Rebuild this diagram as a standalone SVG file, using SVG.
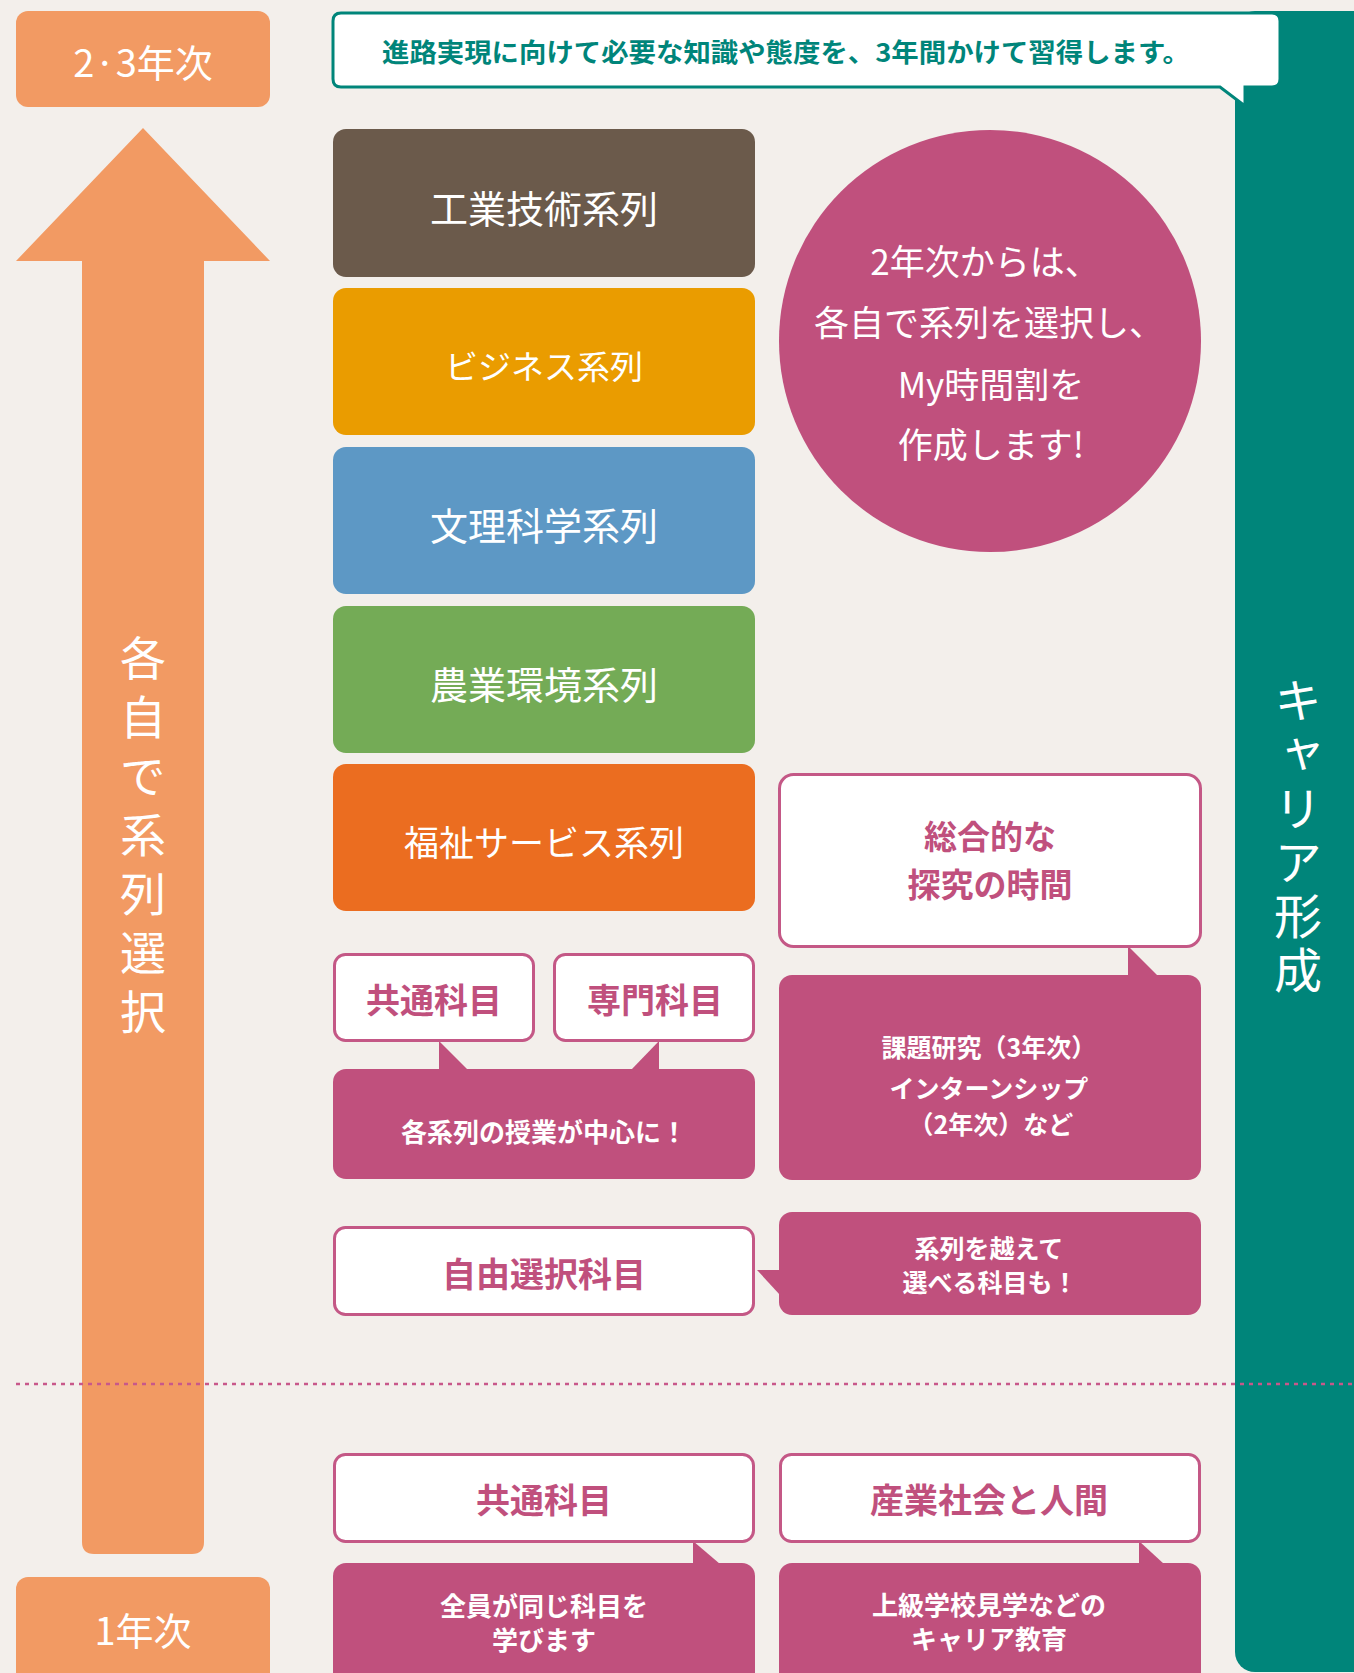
<svg xmlns="http://www.w3.org/2000/svg" width="1354" height="1673" viewBox="0 0 1354 1673">
<style>
.goth{font-family:"Noto Sans CJK JP","Liberation Sans",sans-serif;font-weight:700;}
.w{fill:#fff;}
.pk{fill:#C0507D;}
.wbox{fill:#fff;stroke:#C45886;stroke-width:3;}
.pbox{fill:#C0507D;}
.ser{font-family:"Noto Sans CJK JP",sans-serif;font-weight:400;fill:#fff;}
.vert{writing-mode:vertical-rl;}
</style>
<rect x="0" y="0" width="1354" height="1673" fill="#F3EFEB"/>

<g id="career-bar">
<rect x="1235" y="11" width="140" height="1661" rx="20" fill="#00857A"/>
<text class="ser vert" font-size="48" x="1298" y="676" letter-spacing="6">キャリア形成</text>
</g>

<g id="grade-23">
<rect x="16" y="11" width="254" height="96" rx="12" fill="#F29A63"/>
<text class="ser" font-size="38" x="143" y="60" text-anchor="middle" dominant-baseline="central">2·3年次</text>
</g>

<g id="arrow">
<path d="M143,128 L270,261 L204,261 L204,1542 Q204,1554 192,1554 L94,1554 Q82,1554 82,1542 L82,261 L16,261 Z" fill="#F29A63"/>
<text class="ser vert" font-size="46" x="143" y="635" letter-spacing="13">各自で系列選択</text>
</g>

<g id="grade-1">
<rect x="16" y="1577" width="254" height="110" rx="12" fill="#F29A63"/>
<text class="ser" font-size="38" x="143" y="1628" text-anchor="middle" dominant-baseline="central">1年次</text>
</g>

<g id="intro-bubble">
<path d="M341,13 H1272 Q1280,13 1280,21 V79 Q1280,87 1272,87 H1245 V106 L1220,87 H341 Q333,87 333,79 V21 Q333,13 341,13 Z" fill="#fff" stroke="#00857A" stroke-width="3"/>
<text class="goth" font-size="26" x="786" y="50" text-anchor="middle" dominant-baseline="central" fill="#00857A" textLength="808" lengthAdjust="spacingAndGlyphs">進路実現に向けて必要な知識や態度を、3年間かけて習得します。</text>
</g>

<g id="series-kogyo">
<rect x="333" y="129" width="422" height="148" rx="13" fill="#6B5A4B"/>
<text class="ser" font-size="38" x="544" y="206" text-anchor="middle" dominant-baseline="central">工業技術系列</text>
</g>
<g id="series-business">
<rect x="333" y="288" width="422" height="147" rx="13" fill="#EA9C00"/>
<text class="ser" font-size="33" x="544" y="365" text-anchor="middle" dominant-baseline="central">ビジネス系列</text>
</g>
<g id="series-bunri">
<rect x="333" y="447" width="422" height="147" rx="13" fill="#5D98C5"/>
<text class="ser" font-size="38" x="544" y="523" text-anchor="middle" dominant-baseline="central">文理科学系列</text>
</g>
<g id="series-nogyo">
<rect x="333" y="606" width="422" height="147" rx="13" fill="#74AB56"/>
<text class="ser" font-size="38" x="544" y="682" text-anchor="middle" dominant-baseline="central">農業環境系列</text>
</g>
<g id="series-fukushi">
<rect x="333" y="764" width="422" height="147" rx="13" fill="#EB6D20"/>
<text class="ser" font-size="35" x="544" y="840" text-anchor="middle" dominant-baseline="central">福祉サービス系列</text>
</g>

<g id="circle">
<circle cx="990" cy="341" r="211" fill="#C0507D"/>
<g class="ser" font-size="35" text-anchor="middle" dominant-baseline="central">
<text x="985" y="259">2年次からは、</text>
<text x="989" y="320">各自で系列を選択し、</text>
<text x="991" y="382">My時間割を</text>
<text x="991" y="442">作成します!</text>
</g>
</g>

<g id="connectors">
<polygon points="439,1041 439,1070 468,1070" fill="#C0507D"/>
<polygon points="659,1041 659,1070 631,1070" fill="#C0507D"/>
<polygon points="1128,946 1128,976 1158,976" fill="#C0507D"/>
<polygon points="780,1270 757,1270 780,1295" fill="#C0507D"/>
<polygon points="693,1541 693,1564 720,1564" fill="#C0507D"/>
<polygon points="1139,1541 1139,1564 1164,1564" fill="#C0507D"/>
<line x1="16" y1="1384" x2="1354" y2="1384" stroke="#C8588A" stroke-width="2.5" stroke-dasharray="4,5"/>
</g>

<g id="kyotsu-upper">
<rect class="wbox" x="334.5" y="954.5" width="199" height="86" rx="11"/>
<text class="goth pk" font-size="34" x="434" y="998" text-anchor="middle" dominant-baseline="central">共通科目</text>
</g>
<g id="senmon">
<rect class="wbox" x="554.5" y="954.5" width="199" height="86" rx="11"/>
<text class="goth pk" font-size="34" x="655" y="998" text-anchor="middle" dominant-baseline="central">専門科目</text>
</g>
<g id="series-center">
<rect class="pbox" x="333" y="1069" width="422" height="110" rx="13"/>
<text class="goth w" font-size="26" x="544" y="1130" text-anchor="middle" dominant-baseline="central">各系列の授業が中心に！</text>
</g>

<g id="tankyu">
<rect class="wbox" x="779.5" y="774.5" width="421" height="172" rx="14"/>
<text class="goth pk" font-size="33" text-anchor="middle" dominant-baseline="central"><tspan x="990" y="835">総合的な</tspan><tspan x="990" y="883">探究の時間</tspan></text>
</g>
<g id="tankyu-detail">
<rect class="pbox" x="779" y="975" width="422" height="205" rx="13"/>
<g class="goth w" font-size="25" text-anchor="middle" dominant-baseline="central">
<text x="989" y="1046">課題研究（3年次）</text>
<text x="989" y="1087">インターンシップ</text>
<text x="991" y="1123">（2年次）など</text>
</g>
</g>

<g id="jiyu">
<rect class="wbox" x="334.5" y="1227.5" width="419" height="87" rx="11"/>
<text class="goth pk" font-size="34" x="544" y="1272" text-anchor="middle" dominant-baseline="central">自由選択科目</text>
</g>
<g id="jiyu-note">
<rect class="pbox" x="779" y="1212" width="422" height="103" rx="13"/>
<g class="goth w" font-size="25" text-anchor="middle" dominant-baseline="central">
<text x="989" y="1247">系列を越えて</text>
<text x="990" y="1281">選べる科目も！</text>
</g>
</g>

<g id="kyotsu-lower">
<rect class="wbox" x="334.5" y="1454.5" width="419" height="87" rx="11"/>
<text class="goth pk" font-size="34" x="544" y="1498" text-anchor="middle" dominant-baseline="central">共通科目</text>
</g>
<g id="kyotsu-note">
<rect class="pbox" x="333" y="1563" width="422" height="130" rx="13"/>
<g class="goth w" font-size="26" text-anchor="middle" dominant-baseline="central">
<text x="544" y="1604">全員が同じ科目を</text>
<text x="544" y="1638">学びます</text>
</g>
</g>

<g id="sangyo">
<rect class="wbox" x="780.5" y="1454.5" width="419" height="87" rx="11"/>
<text class="goth pk" font-size="34" x="989" y="1498" text-anchor="middle" dominant-baseline="central">産業社会と人間</text>
</g>
<g id="sangyo-note">
<rect class="pbox" x="779" y="1563" width="422" height="130" rx="13"/>
<g class="goth w" font-size="26" text-anchor="middle" dominant-baseline="central">
<text x="989" y="1603">上級学校見学などの</text>
<text x="989" y="1637">キャリア教育</text>
</g>
</g>
</svg>
